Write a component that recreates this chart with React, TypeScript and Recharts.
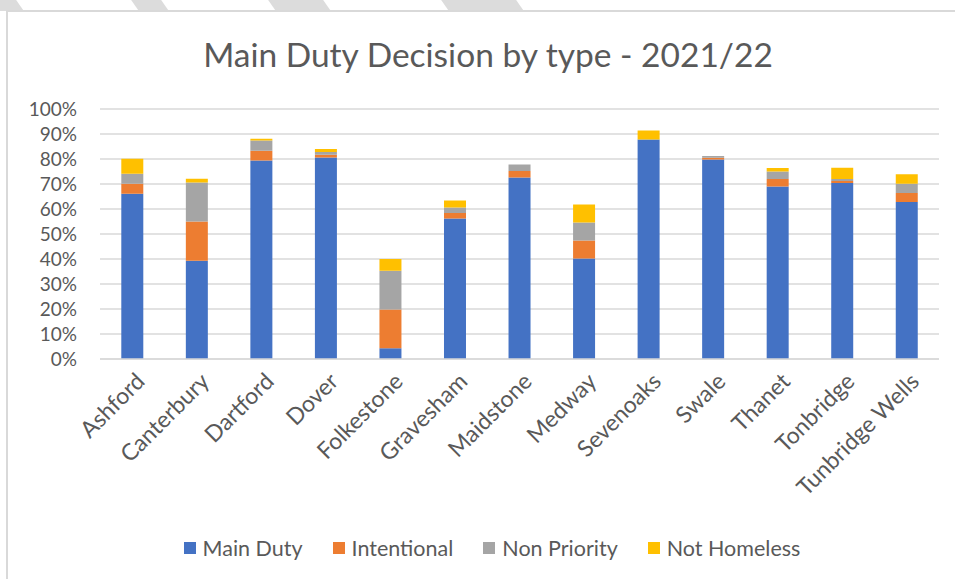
import React from "react"
import { BarChart, Bar, XAxis, YAxis, CartesianGrid, Legend } from "recharts"

// districts along the x axis
const districts = [
  "Ashford",
  "Canterbury",
  "Dartford",
  "Dover",
  "Folkestone",
  "Gravesham",
  "Maidstone",
  "Medway",
  "Sevenoaks",
  "Swale",
  "Thanet",
  "Tonbridge",
  "Tunbridge Wells",
]

// share of decisions (%)
const mainDuty = [66.1, 39.3, 79.4, 80.6, 4.3, 56.2, 72.6, 40.2, 87.8, 79.8, 69.0, 70.4, 62.8]
const intentional = [4.0, 15.7, 3.9, 1.1, 15.5, 2.2, 2.6, 7.2, 0, 0.7, 3.0, 0.8, 3.6]
const nonPriority = [4.0, 15.6, 4.1, 1.1, 15.5, 2.2, 2.6, 7.2, 0, 0.7, 3.0, 0.8, 3.7]
const notHomeless = [6.0, 1.5, 0.7, 1.2, 4.7, 2.8, 0, 7.2, 3.6, 0, 1.4, 4.5, 3.8]

const yTicks = [0, 10, 20, 30, 40, 50, 60, 70, 80, 90, 100]

const data = districts.map((name, i) => ({
  name,
  main: mainDuty[i],
  intentional: intentional[i],
  nonPriority: nonPriority[i],
  notHomeless: notHomeless[i],
}))

const FONT = "Lato, 'Open Sans', sans-serif"
const TEXT = "#595959"

const series = [
  { key: "main", name: "Main Duty", color: "#4472C4" },
  { key: "intentional", name: "Intentional", color: "#ED7D31" },
  { key: "nonPriority", name: "Non Priority", color: "#A5A5A5" },
  { key: "notHomeless", name: "Not Homeless", color: "#FFC000" },
]

const XTick = (props: any) => {
  const { x, y, payload } = props
  return (
    <g transform={`translate(${x + 4},${y + 6})`}>
      <text
        transform="rotate(-45)"
        textAnchor="end"
        dy={14}
        fontSize={23}
        fontFamily={FONT}
        fill={TEXT}
      >
        {payload.value}
      </text>
    </g>
  )
}

const LegendContent = () => (
  <div style={{ display: "flex", justifyContent: "center", fontFamily: FONT, fontSize: 21.5, color: TEXT, paddingLeft: 45 }}>
    {series.map((s) => (
      <div key={s.key} style={{ display: "flex", alignItems: "center", margin: "0 15px" }}>
        <span style={{ display: "inline-block", width: 12, height: 12, background: s.color, marginRight: 7 }} />
        <span>{s.name}</span>
      </div>
    ))}
  </div>
)

// watermark stripes above the chart frame
const stripes = [
  { left: -10, width: 30 },
  { left: 135, width: 30 },
  { left: 272, width: 55 },
  { left: 445, width: 75 },
]

export default function App() {
  return (
    <div style={{ position: "absolute", left: 0, top: 0, width: 955, height: 579, background: "#fff", overflow: "hidden" }}>
      {stripes.map((s, i) => (
        <div
          key={i}
          style={{
            position: "absolute",
            top: 0,
            left: s.left,
            width: s.width,
            height: 11,
            background: "#dcdcdc",
            transform: "skewX(35deg)",
          }}
        />
      ))}
      <div
        style={{
          position: "absolute",
          left: 6,
          top: 10,
          width: 960,
          height: 580,
          borderLeft: "2px solid #d9d9d9",
          borderTop: "2px solid #d9d9d9",
          background: "#fff",
        }}
      />
      <div
        style={{
          position: "absolute",
          top: 34,
          left: 0,
          width: 976,
          textAlign: "center",
          fontFamily: FONT,
          fontSize: 33.5,
          color: TEXT,
        }}
      >
        Main Duty Decision by type - 2021/22
      </div>
      <div style={{ position: "absolute", left: 0, top: 0 }}>
        <BarChart
          width={955}
          height={579}
          data={data}
          margin={{ top: 109, right: 16, left: 0, bottom: 20 }}
          barCategoryGap="33%"
        >
          <CartesianGrid vertical={false} stroke="#d9d9d9" strokeWidth={1.5} />
          <XAxis
            dataKey="name"
            interval={0}
            height={176}
            tickLine={false}
            axisLine={{ stroke: "#d9d9d9", strokeWidth: 1.5 }}
            tick={<XTick />}
          />
          <YAxis
            width={100}
            domain={[0, 100]}
            ticks={yTicks}
            interval={0}
            tickFormatter={(v) => `${v}%`}
            axisLine={false}
            tickLine={false}
            tickMargin={17}
            tick={{ fontSize: 19, fill: TEXT, fontFamily: FONT }}
          />
          <Legend verticalAlign="bottom" align="center" height={24} content={<LegendContent />} />
          {series.map((s) => (
            <Bar key={s.key} dataKey={s.key} name={s.name} stackId="a" fill={s.color} isAnimationActive={false} />
          ))}
        </BarChart>
      </div>
    </div>
  )
}
